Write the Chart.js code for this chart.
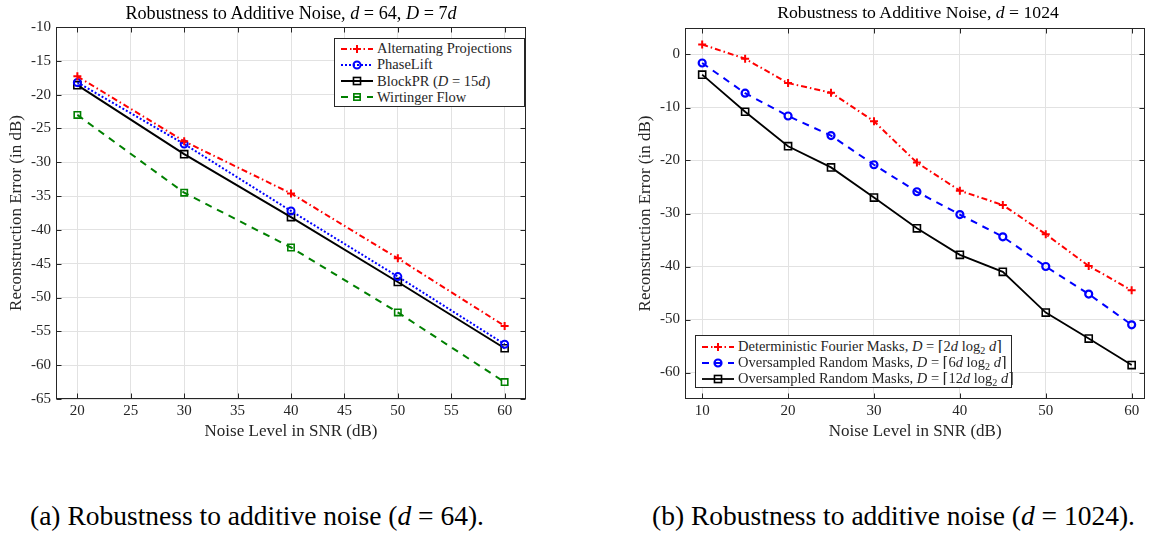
<!DOCTYPE html>
<html><head><meta charset="utf-8">
<script src="https://cdn.jsdelivr.net/npm/chart.js@4.4.1/dist/chart.umd.min.js"></script>
<style>
html,body{margin:0;padding:0;background:#fff;}
#wrap{position:relative;width:1152px;height:534px;overflow:hidden;font-family:"Liberation Serif","DejaVu Serif",serif;color:#000;}
#wrap canvas{position:absolute;top:0;}
.title{position:absolute;white-space:nowrap;transform:translate(-50%,-50%);line-height:1;}
.legend{position:absolute;background:#fff;border:1px solid #262626;box-sizing:border-box;font-size:14.5px;color:#262626;}
.legend .row{position:absolute;height:16px;display:flex;align-items:center;white-space:nowrap;line-height:1;}
.legend .row svg{margin-right:4px;flex:none;}
.caption{position:absolute;white-space:nowrap;font-size:27.5px;line-height:1;transform:translateY(-50%);}
sub{font-size:70%;line-height:0;vertical-align:-0.25em;}
</style></head>
<body><div id="wrap">
<canvas id="c1" width="576" height="450" style="left:0px"></canvas>
<canvas id="c2" width="576" height="450" style="left:576px"></canvas>
<div class="title" style="left:291px;top:13px;font-size:18.2px">Robustness to Additive Noise, <i>d</i> = 64, <i>D</i> = 7<i>d</i></div>
<div class="title" style="left:918px;top:13px;font-size:17.7px">Robustness to Additive Noise, <i>d</i> = 1024</div>
<div class="legend" id="legA" style="left:334px;top:38px;width:191px;height:69px"></div>
<div class="legend" id="legB" style="left:695px;top:335px;width:317px;height:53px"></div>
<div class="caption" style="left:30px;top:516px">(a) Robustness to additive noise (<i>d</i> = 64).</div>
<div class="caption" style="left:652px;top:516px">(b) Robustness to additive noise (<i>d</i> = 1024).</div>
</div>
<script>
// ---------- Data ----------
const snrA = [20, 30, 40, 50, 60];
const altProj   = [-17.3, -26.9, -34.6, -44.2, -54.2];
const phaseLift = [-18.2, -27.3, -37.2, -46.9, -56.9];
const blockPR   = [-18.6, -28.8, -38.1, -47.7, -57.5];
const wirtinger = [-23.0, -34.5, -42.6, -52.2, -62.5];
const xTicksA = [20, 25, 30, 35, 40, 45, 50, 55, 60];
const yTicksA = [-10, -15, -20, -25, -30, -35, -40, -45, -50, -55, -60, -65];
const namesA = ['Alternating Projections', 'PhaseLift', 'BlockPR (<i>D</i> = 15<i>d</i>)', 'Wirtinger Flow'];

const snrB = [10, 15, 20, 25, 30, 35, 40, 45, 50, 55, 60];
const fourierMasks = [1.9, -0.8, -5.4, -7.2, -12.6, -20.4, -25.7, -28.4, -33.9, -39.9, -44.5];
const randMasks6   = [-1.6, -7.3, -11.6, -15.3, -20.8, -25.9, -30.2, -34.4, -40.0, -45.2, -51.0];
const randMasks12  = [-3.8, -10.8, -17.3, -21.3, -27.0, -32.8, -37.8, -41.0, -48.7, -53.6, -58.6];
const xTicksB = [10, 20, 30, 40, 50, 60];
const yTicksB = [0, -10, -20, -30, -40, -50, -60];
const namesB = [
  'Deterministic Fourier Masks, <i>D</i> = ⌈2<i>d</i> log<sub>2</sub> <i>d</i>⌉',
  'Oversampled Random Masks, <i>D</i> = ⌈6<i>d</i> log<sub>2</sub> <i>d</i>⌉',
  'Oversampled Random Masks, <i>D</i> = ⌈12<i>d</i> log<sub>2</sub> <i>d</i>⌉'
];

// ---------- Styles ----------
const FONT = '"Liberation Serif", "DejaVu Serif", serif';
const AXC = '#262626';
const GRID = '#e2e2e2';
const stylesA = [
  {color:'#ff0000', dash:[6,3,1.5,3], width:2, marker:'cross', r:4, bw:2},
  {color:'#0000ff', dash:[2,2], width:2, marker:'circle', r:3.5, bw:2},
  {color:'#000000', dash:[], width:2, marker:'rect', r:5, bw:1.6},
  {color:'#008000', dash:[7,6], width:2, marker:'rect', r:4.5, bw:1.6}
];
const stylesB = [
  {color:'#ff0000', dash:[6,3,1.5,3], width:2, marker:'cross', r:4, bw:2},
  {color:'#0000ff', dash:[7,6], width:2, marker:'circle', r:3.5, bw:2.2},
  {color:'#000000', dash:[], width:1.8, marker:'rect', r:5, bw:1.6}
];

function ds(label, xs, ys, st){
  return {
    label, data: xs.map((x,i)=>({x, y: ys[i]})),
    borderColor: st.color, borderWidth: st.width, borderDash: st.dash,
    pointStyle: st.marker, pointRadius: st.r, pointBorderWidth: st.bw,
    pointBorderColor: st.color, pointBackgroundColor: 'rgba(0,0,0,0)',
    pointHoverRadius: st.r, fill: false, tension: 0
  };
}

const framePlugin = {
  id: 'frame',
  beforeDatasetsDraw(chart){
    const {ctx, chartArea, scales} = chart;
    const l = Math.round(chartArea.left)+0.5, r = Math.round(chartArea.right)-0.5;
    const t = Math.round(chartArea.top)+0.5, b = Math.round(chartArea.bottom)-0.5;
    ctx.save();
    ctx.strokeStyle = AXC; ctx.lineWidth = 1;
    ctx.strokeRect(l, t, r-l, b-t);
    const tl = 5;
    ctx.beginPath();
    scales.x.ticks.forEach(tk=>{
      const px = Math.round(scales.x.getPixelForValue(tk.value))+0.5;
      ctx.moveTo(px, b); ctx.lineTo(px, b-tl);
      ctx.moveTo(px, t); ctx.lineTo(px, t+tl);
    });
    scales.y.ticks.forEach(tk=>{
      const py = Math.round(scales.y.getPixelForValue(tk.value))+0.5;
      ctx.moveTo(l, py); ctx.lineTo(l+tl, py);
      ctx.moveTo(r, py); ctx.lineTo(r-tl, py);
    });
    ctx.stroke();
    ctx.restore();
  }
};

function makeChart(id, datasets, cfg){
  return new Chart(document.getElementById(id), {
    type: 'line',
    data: {datasets},
    options: {
      responsive: false, animation: false, devicePixelRatio: 1,
      layout: {padding: {left: 0, top: cfg.top, right: cfg.right, bottom: 0}},
      plugins: {legend: {display: false}, title: {display: false}, tooltip: {enabled: false}},
      scales: {
        x: {
          type: 'linear', min: cfg.xMin, max: cfg.xMax,
          afterBuildTicks: s => { s.ticks = cfg.xTicks.map(v => ({value: v})); },
          afterFit: s => { s.height = cfg.xAxisH; },
          grid: {color: GRID, lineWidth: 1, drawTicks: false},
          border: {display: false},
          ticks: {padding: 3, color: AXC, font: {family: FONT, size: 15}, maxRotation: 0, autoSkip: false, callback: v => String(v)},
          title: {display: true, text: 'Noise Level in SNR (dB)', color: AXC, font: {family: FONT, size: 17}, padding: {top: 0, bottom: 8}}
        },
        y: {
          type: 'linear', min: cfg.yMin, max: cfg.yMax,
          afterBuildTicks: s => { s.ticks = cfg.yTicks.map(v => ({value: v})); },
          afterFit: s => { s.width = cfg.yAxisW; },
          grid: {color: GRID, lineWidth: 1, drawTicks: false},
          border: {display: false},
          ticks: {padding: 5, color: AXC, font: {family: FONT, size: 15}, autoSkip: false, callback: v => String(v)},
          title: {display: true, text: 'Reconstruction Error (in dB)', color: AXC, font: {family: FONT, size: 17}, padding: {top: cfg.yTitlePad, bottom: 0}}
        }
      }
    },
    plugins: [framePlugin]
  });
}

Chart.defaults.font.family = FONT;

makeChart('c1',
  [ds('Alternating Projections', snrA, altProj, stylesA[0]),
   ds('PhaseLift', snrA, phaseLift, stylesA[1]),
   ds('BlockPR (D = 15d)', snrA, blockPR, stylesA[2]),
   ds('Wirtinger Flow', snrA, wirtinger, stylesA[3])],
  {xMin: 18, xMax: 62, yMin: -65, yMax: -10, xTicks: xTicksA, yTicks: yTicksA,
   top: 27, right: 50, yAxisW: 56, xAxisH: 51, yTitlePad: 6});

makeChart('c2',
  [ds('Deterministic Fourier Masks', snrB, fourierMasks, stylesB[0]),
   ds('Oversampled Random Masks (6d)', snrB, randMasks6, stylesB[1]),
   ds('Oversampled Random Masks (12d)', snrB, randMasks12, stylesB[2])],
  {xMin: 8, xMax: 61.6, yMin: -65, yMax: 5, xTicks: xTicksB, yTicks: yTicksB,
   top: 28, right: 1, yAxisW: 109, xAxisH: 51, yTitlePad: 59});

// ---------- Legends (HTML) ----------
function sample(st){
  const w = 32, h = 12, cx = 16, cy = 6;
  let m = '';
  if (st.marker === 'cross') m = `<path d="M${cx-4} ${cy}H${cx+4}M${cx} ${cy-4}V${cy+4}" stroke="${st.color}" stroke-width="${st.bw}"/>`;
  else if (st.marker === 'circle') m = `<circle cx="${cx}" cy="${cy}" r="${st.r}" fill="none" stroke="${st.color}" stroke-width="${st.bw}"/>`;
  else { const s = st.r*Math.SQRT2/2; m = `<rect x="${cx-s}" y="${cy-s}" width="${2*s}" height="${2*s}" fill="none" stroke="${st.color}" stroke-width="${st.bw}"/>`; }
  return `<svg width="${w}" height="${h}" viewBox="0 0 ${w} ${h}"><line x1="0" y1="${cy}" x2="${w}" y2="${cy}" stroke="${st.color}" stroke-width="${st.width}" stroke-dasharray="${st.dash.join(' ')||'none'}"/>${m}</svg>`;
}
function buildLegend(id, names, styles, first, step){
  const el = document.getElementById(id);
  names.forEach((n,i)=>{
    const row = document.createElement('div');
    row.className = 'row';
    row.style.left = '6px';
    row.style.top = (first + step*i - 8) + 'px';
    row.innerHTML = sample(styles[i]) + '<span>' + n + '</span>';
    el.appendChild(row);
  });
}
buildLegend('legA', namesA, stylesA, 9.5, 16.2);
buildLegend('legB', namesB, stylesB, 10.5, 16);
</script>
</body></html>
